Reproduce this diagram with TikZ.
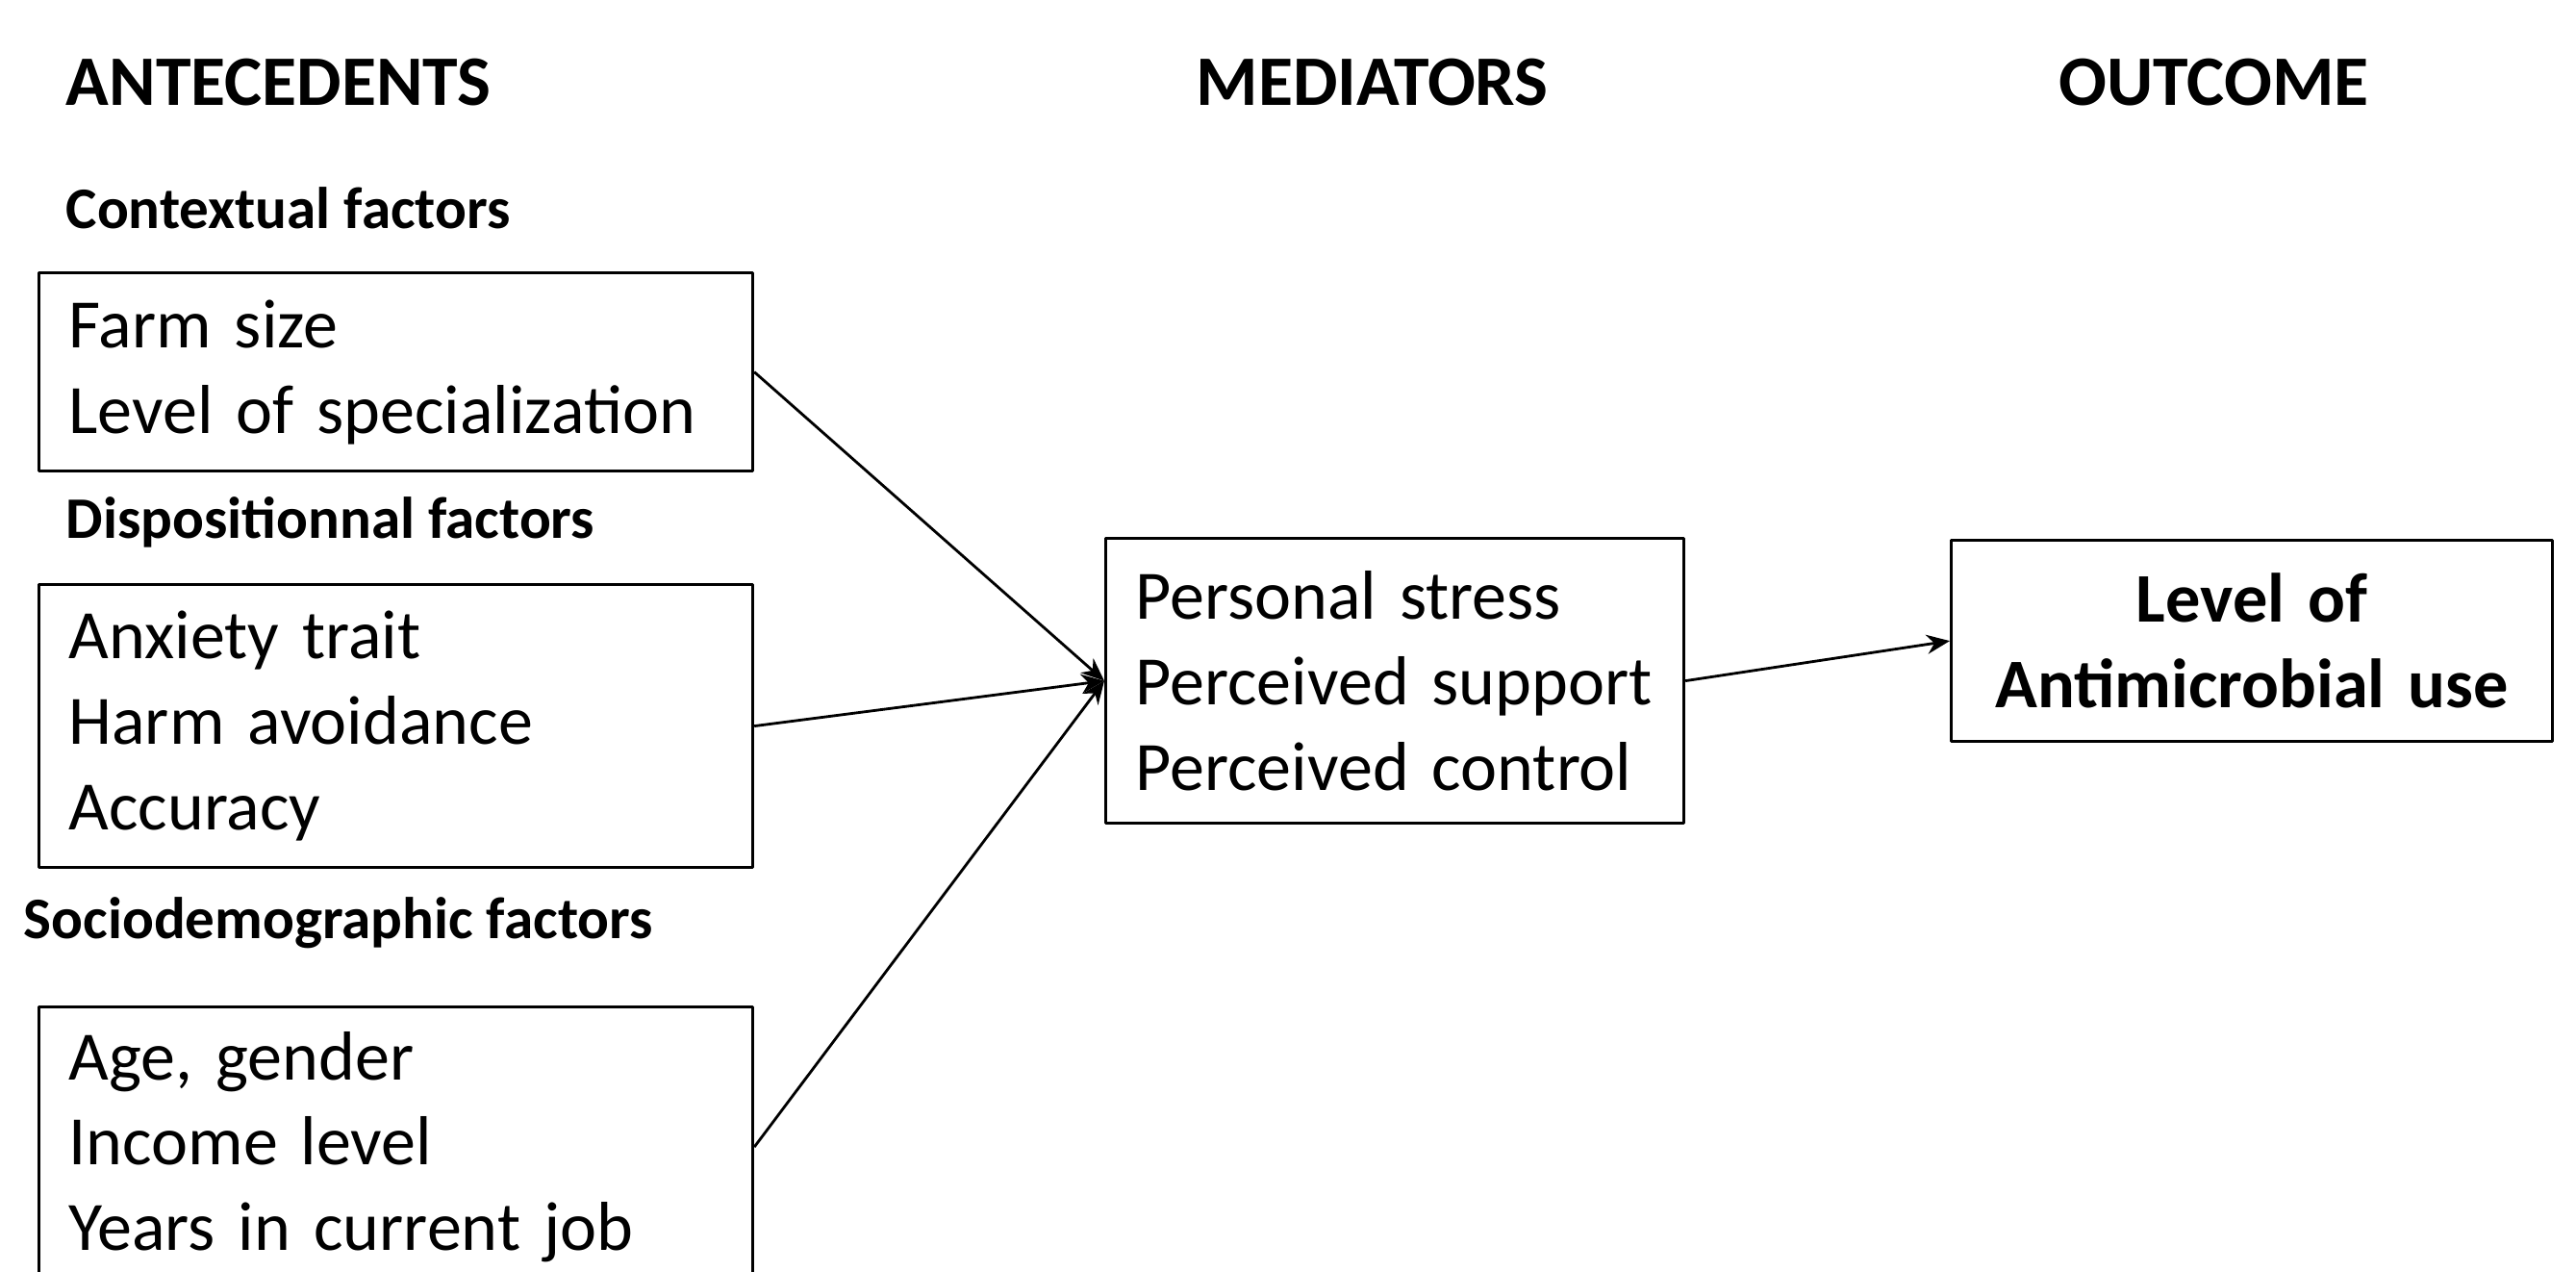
\documentclass[tikz,border=0pt]{standalone}
\usepackage{fontspec}
\setmainfont{Carlito}
\usetikzlibrary{arrows.meta}
\begin{document}
\begin{tikzpicture}[line join=round,
	head/.style={anchor=base west,inner sep=0pt,font=\fontsize{21}{25}\selectfont\bfseries},
	sub/.style={anchor=base west,inner sep=0pt,font=\fontsize{17.4}{20}\selectfont\bfseries},
	box/.style={draw,line width=0.9pt,anchor=north west,align=left,inner xsep=0.31cm,font=\fontsize{20.5}{25.3}\selectfont},
	arr/.style={line width=0.8pt,-{Stealth[length=0.24cm,width=0.2cm]}}]
	\useasboundingbox (0,0) rectangle (26.78,-13.21);
	\node[head] (tAnte) at (0.68,-1.09) {ANTECEDENTS};
	\node[head] (tMed) at (12.43,-1.09) {MEDIATORS};
	\node[head] (tOut) at (21.40,-1.09) {OUTCOME};
	\node[sub] (sCtx) at (0.68,-2.37) {Contextual factors};
	\node[sub] (sDisp) at (0.68,-5.59) {Dispositionnal factors};
	\node[sub] (sSoc) at (0.24,-9.75) {Sociodemographic factors};
	\node[box,text width=6.80cm,minimum height=2.06cm] (ctx) at (0.39,-2.82) {Farm size\\Level of specialization};
	\node[box,text width=6.80cm,minimum height=2.94cm] (disp) at (0.39,-6.06) {Anxiety trait\\Harm avoidance\\Accuracy};
	\node[box,text width=6.80cm,minimum height=2.91cm] (soc) at (0.39,-10.45) {Age, gender\\Income level\\Years in current job};
	\node[box,text width=5.39cm,minimum height=2.96cm] (med) at (11.48,-5.58) {Personal stress\\Perceived support\\Perceived control};
	\node[box,align=center,text width=5.63cm,minimum height=2.09cm,font=\fontsize{20.6}{25.3}\selectfont\bfseries] (out) at (20.27,-5.60) {Level of\\Antimicrobial use};
	\foreach \s in {ctx,disp,soc}{
		\draw[arr] (\s.east) -- (med.west);
	}
	\draw[arr] (med.east) -- (out.west);
\end{tikzpicture}
\end{document}
